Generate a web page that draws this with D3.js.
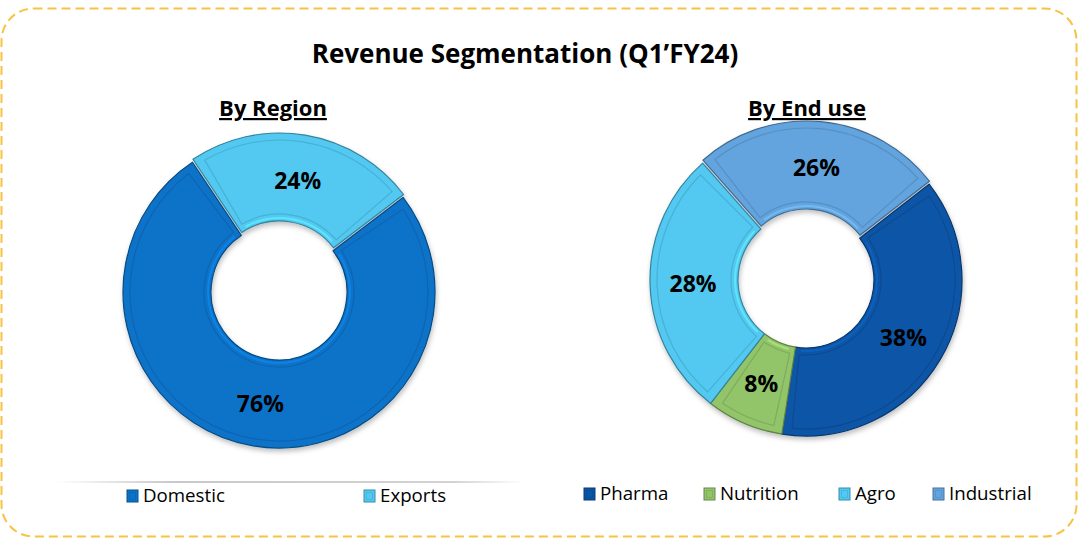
<!DOCTYPE html>
<html>
<head>
<meta charset="utf-8">
<script src="https://cdn.jsdelivr.net/npm/d3@7"></script>
<style>
  html, body { margin: 0; padding: 0; background: #ffffff; }
  svg { display: block; }
  text { font-family: "Open Sans", "DejaVu Sans", sans-serif; }
</style>
</head>
<body>
<svg id="chart" width="1078" height="539"></svg>
<script>
// ---------------- data ----------------
const chartTitle = "Revenue Segmentation (Q1’FY24)";
const regionTitle = "By Region";
const regionCategories = ["Domestic", "Exports"];
const regionValues = [76, 24];
const endUseTitle = "By End use";
const endUseCategories = ["Pharma", "Nutrition", "Agro", "Industrial"];
const endUseValues = [38, 8, 28, 26];

// ---------------- styles ----------------
const colorMap = {
  Domestic: "#0b73c9",
  Exports: "#52c9f2",
  Pharma: "#0b55a6",
  Nutrition: "#92c46a",
  Agro: "#52c9f2",
  Industrial: "#63a4de"
};
const exploded = { Exports: 3, Industrial: 3 };

const svg = d3.select("#chart");
const W = 1078, H = 539;

const defs = svg.append("defs");
const shadow = defs.append("filter").attr("id", "shadow")
  .attr("x", "-10%").attr("y", "-10%").attr("width", "120%").attr("height", "125%");
shadow.append("feDropShadow").attr("dx", 1).attr("dy", 3).attr("stdDeviation", 2.5)
  .attr("flood-color", "#000").attr("flood-opacity", 0.25);

const lineGrad = defs.append("linearGradient").attr("id", "legline")
  .attr("x1", "0%").attr("x2", "100%");
lineGrad.append("stop").attr("offset", "0%").attr("stop-color", "#bbb").attr("stop-opacity", 0);
lineGrad.append("stop").attr("offset", "25%").attr("stop-color", "#bbb").attr("stop-opacity", 0.8);
lineGrad.append("stop").attr("offset", "85%").attr("stop-color", "#c8c8c8").attr("stop-opacity", 0.8);
lineGrad.append("stop").attr("offset", "100%").attr("stop-color", "#ccc").attr("stop-opacity", 0);

// border
svg.append("rect")
  .attr("x", 1.5).attr("y", 8.5).attr("width", W - 3).attr("height", 528)
  .attr("rx", 32).attr("ry", 32)
  .attr("fill", "none").attr("stroke", "#f6c343").attr("stroke-width", 2)
  .attr("stroke-dasharray", "9,5");

// title
svg.append("text")
  .attr("x", 525).attr("y", 63)
  .attr("text-anchor", "middle")
  .attr("font-size", 26).attr("font-weight", 700)
  .attr("fill", "#000")
  .text(chartTitle);

function drawDonut(cfg) {
  const { cx, cy, rOuter, rInner, cats, vals, startDeg, title, titleX } = cfg;
  svg.append("text")
    .attr("x", titleX).attr("y", 116)
    .attr("text-anchor", "middle")
    .attr("font-size", 22).attr("font-weight", 700)
    .attr("text-decoration", "underline")
    .attr("fill", "#000")
    .text(title);

  const data = cats.map((c, i) => ({ cat: c, value: vals[i] }));
  const start = startDeg * Math.PI / 180;
  const pie = d3.pie().value(d => d.value).sort(null)
    .startAngle(start).endAngle(start + 2 * Math.PI);
  const arcs = pie(data);

  const arc = d3.arc().innerRadius(rInner).outerRadius(rOuter);
  const inset = 7;
  const insetArc = d3.arc()
    .innerRadius(rInner + inset).outerRadius(rOuter - inset);
  const hiArc = d3.arc().innerRadius(rInner + 2).outerRadius(rInner + 4);
  const labelArc = d3.arc().innerRadius(rInner).outerRadius(rOuter + 2);

  const g = svg.append("g").attr("transform", `translate(${cx},${cy})`)
    .attr("filter", "url(#shadow)");

  const slices = g.selectAll("g.slice").data(arcs).join("g")
    .attr("class", "slice")
    .attr("transform", d => {
      const off = exploded[d.data.cat] || 0;
      const mid = (d.startAngle + d.endAngle) / 2;
      return `translate(${off * Math.sin(mid)},${-off * Math.cos(mid)})`;
    });

  slices.append("path")
    .attr("d", arc)
    .attr("fill", d => colorMap[d.data.cat])
    .attr("stroke", d => d3.color(colorMap[d.data.cat]).darker(1.2))
    .attr("stroke-width", 1.2)
    .attr("stroke-linejoin", "round");

  // bevel inset outline
  slices.append("path")
    .attr("d", d => {
      const midR = (rInner + rOuter) / 2;
      const da = inset / midR;
      return insetArc({ startAngle: d.startAngle + da, endAngle: d.endAngle - da });
    })
    .attr("fill", "none")
    .attr("stroke", d => d3.color(colorMap[d.data.cat]).darker(0.7))
    .attr("stroke-opacity", 0.55)
    .attr("stroke-width", 1.2);

  // highlight along inner edge
  slices.append("path")
    .attr("d", d => {
      const da = 6 / rInner;
      return hiArc({ startAngle: d.startAngle + da, endAngle: d.endAngle - da });
    })
    .attr("fill", d => d3.color(colorMap[d.data.cat]).brighter(0.6))
    .attr("fill-opacity", 0.6);

  // labels
  svg.append("g").attr("transform", `translate(${cx},${cy})`)
    .selectAll("text").data(arcs).join("text")
    .attr("transform", d => `translate(${labelArc.centroid(d)})`)
    .attr("text-anchor", "middle")
    .attr("dy", "0.36em")
    .attr("font-size", 23).attr("font-weight", 700)
    .attr("fill", "#000")
    .text(d => d.data.value + "%");
}

drawDonut({
  cx: 279, cy: 292, rOuter: 156, rInner: 68,
  cats: regionCategories, vals: regionValues, startDeg: 52.7,
  title: regionTitle, titleX: 273
});
drawDonut({
  cx: 806, cy: 280, rOuter: 156, rInner: 68,
  cats: endUseCategories, vals: endUseValues, startDeg: 52.1,
  title: endUseTitle, titleX: 807
});

// faint line above left legend
svg.append("rect")
  .attr("x", 55).attr("y", 481).attr("width", 470).attr("height", 2)
  .attr("fill", "url(#legline)");

function drawLegend(cats, xs, y) {
  const items = svg.append("g").selectAll("g").data(cats).join("g")
    .attr("transform", (d, i) => `translate(${xs[i]},${y})`);
  items.append("rect")
    .attr("x", 0).attr("y", -12).attr("width", 11).attr("height", 12)
    .attr("fill", d => colorMap[d])
    .attr("stroke", d => d3.color(colorMap[d]).darker(1))
    .attr("stroke-width", 1);
  items.append("rect")
    .attr("x", 2.5).attr("y", -9.5).attr("width", 6).attr("height", 7)
    .attr("fill", "none")
    .attr("stroke", d => d3.color(colorMap[d]).darker(0.6))
    .attr("stroke-opacity", 0.6).attr("stroke-width", 0.8);
  items.append("text")
    .attr("x", 16).attr("y", 0)
    .attr("font-size", 18.7).attr("fill", "#000")
    .text(d => d);
}
drawLegend(regionCategories, [127, 364], 502);
drawLegend(endUseCategories, [584, 704, 839, 933], 500);
</script>
</body>
</html>
